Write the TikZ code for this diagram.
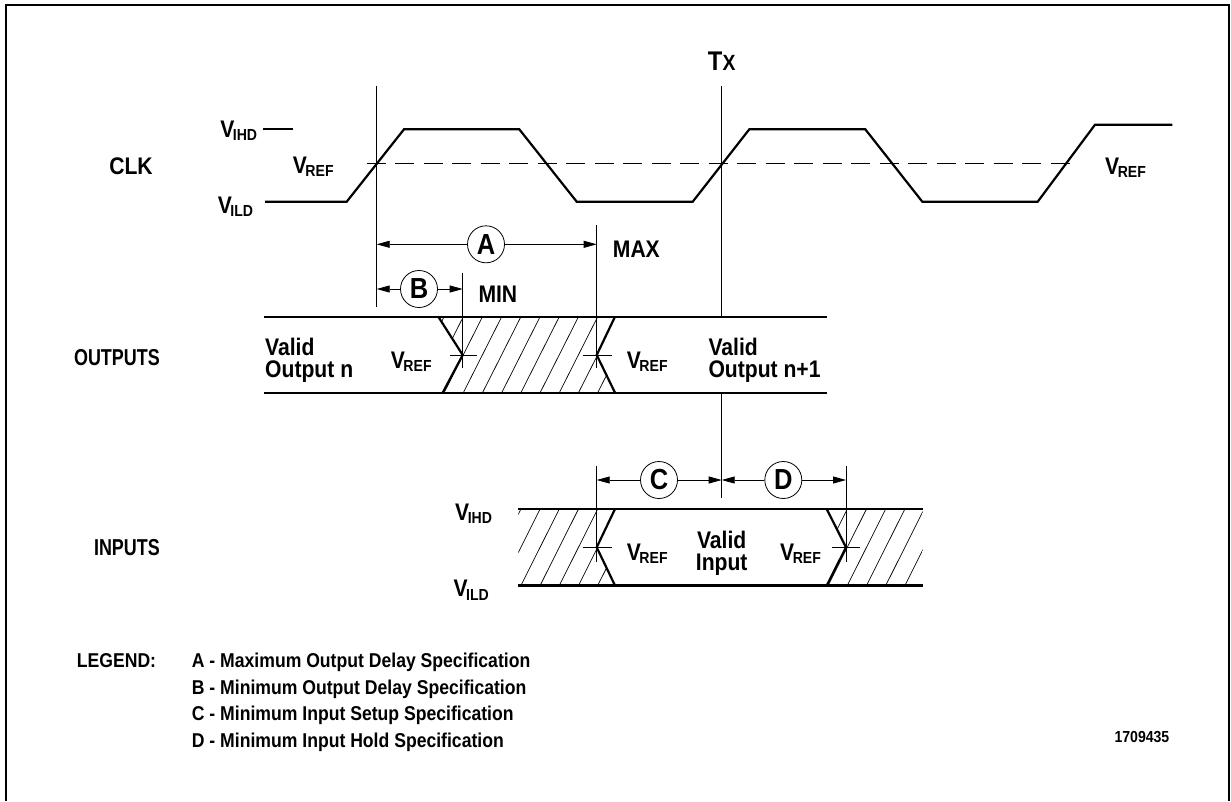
\documentclass[tikz,border=0pt]{standalone}
\usepackage{fontspec}
\setmainfont{Liberation Sans}[FakeStretch=0.88]
\newfontfamily\estrecha{Liberation Sans}[FakeStretch=0.78]
\usepackage{tikz}
\usetikzlibrary{arrows.meta,positioning}

\newcommand{\nivel}[1]{V\kern-1.5pt\raisebox{-3.5pt}{\fontsize{16}{16}\selectfont #1}}

\tikzset{
  senal/.style={line width=2.2pt},
  guia/.style={line width=0.8pt},
  rayado/.style={line width=0.7pt},
  cota/.style={line width=0.8pt, -{Triangle[length=13pt,width=7pt]}},
  circulo/.style={circle, draw, line width=0.8pt, minimum size=37pt, inner sep=0pt,
    font=\bfseries\fontsize{29}{29}\selectfont},
  etiqueta/.style={inner sep=0pt, font=\bfseries\fontsize{24}{22}\selectfont},
  grupo/.style={inner sep=0pt, anchor=east, font=\estrecha\bfseries\fontsize{23}{23}\selectfont},
  leyenda/.style={inner sep=0pt, anchor=base west, font=\bfseries\fontsize{20}{20}\selectfont}
}

\begin{document}
\begin{tikzpicture}[x=1pt,y=-1pt]
\useasboundingbox (0,0) rectangle (1231,801);

%====================================================
% MARCO
%====================================================
\draw[line width=2pt] (6,801) -- (6,5) -- (1229,5) -- (1229,801);

%====================================================
% RELOJ (CLK)
%====================================================
\draw[senal] (265,201.7) -- (346.7,201.7) -- (404,129.3) -- (519.3,129.3) -- (576.7,201.7)
  -- (692.7,201.7) -- (749.3,129.3) -- (865.3,129.3) -- (922.3,201.7) -- (1037.7,201.7)
  -- (1095,124.7) -- (1172.3,124.7);
\draw[senal] (263.3,129.3) -- (292.7,129.3);
\draw[guia, dash pattern=on 19pt off 9.5pt] (366.7,163.3) -- (1076.7,163.3);

\node[etiqueta] (clk) at (131,166) {CLK};
\node[etiqueta, anchor=base east] (vihdClk) at (257.3,137) {\nivel{IHD}};
\node[etiqueta, anchor=base east] (vildClk) at (253.3,213) {\nivel{ILD}};
\node[etiqueta, anchor=base west] (vrefClkL) at (292.7,173) {\nivel{REF}};
\node[etiqueta, anchor=base west] (vrefClkR) at (1105,174) {\nivel{REF}};
\node[etiqueta, font=\bfseries\fontsize{27}{27}\selectfont] (tx) at (721.7,61.7) {T{\fontsize{22}{22}\selectfont X}};

%====================================================
% LINEAS GUIA
%====================================================
\draw[guia] (376.7,86) -- (376.7,307.3);
\draw[guia] (721.7,86) -- (721.7,316.7);
\draw[guia] (721.7,392.7) -- (721.7,498.3);
\draw[guia] (462.7,272.7) -- (462.7,368.3);
\draw[guia] (450,355) -- (476.7,355);
\draw[guia] (596.7,225) -- (596.7,368.3);
\draw[guia] (582.7,355) -- (611.7,355);
\draw[guia] (596.7,466) -- (596.7,561.7);
\draw[guia] (582.7,547) -- (611.7,547);
\draw[guia] (846,466) -- (846,561.7);
\draw[guia] (831.7,547) -- (860,547);

\coordinate (t0A) at (376.7,244.3);
\coordinate (maxA) at (596.7,244.3);
\coordinate (t0B) at (376.7,289);
\coordinate (minB) at (462.7,289);
\coordinate (setC) at (596.7,480);
\coordinate (txC) at (721.7,480);
\coordinate (holdD) at (846,480);

%====================================================
% COTAS A, B, C, D
%====================================================
\node[circulo] (cA) at (486,244.3) {A};
\node[circulo] (cB) at (419,289) {B};
\node[circulo] (cC) at (659,480) {C};
\node[circulo] (cD) at (783.3,480) {D};
\draw[cota] (cA) -- (t0A);
\draw[cota] (cA) -- (maxA);
\draw[cota] (cB) -- (t0B);
\draw[cota] (cB) -- (minB);
\draw[cota] (cC) -- (setC);
\draw[cota] (cC) -- (txC);
\draw[cota] (cD) -- (txC);
\draw[cota] (cD) -- (holdD);

\node[etiqueta, anchor=base west] (max) at (612.7,257.3) {MAX};
\node[etiqueta, anchor=base west] (min) at (478.3,302.7) {MIN};

%====================================================
% SALIDAS (OUTPUTS)
%====================================================
\begin{scope}
\clip (438.3,316.7) -- (462.7,355) -- (442.7,392.7) -- (615,392.7) -- (596.7,355) -- (615,316.7) -- cycle;
\foreach \k in {-3,...,9}
  \draw[rayado] ({463.3+19.2*\k},392.7) -- ++(38.4,-76);
\end{scope}
\draw[senal] (264,316.7) -- (827.3,316.7);
\draw[senal] (264,392.7) -- (827.3,392.7);
\draw[senal] (438.3,316.7) -- (462.7,355) -- (442.7,392.7);
\draw[senal] (615,316.7) -- (596.7,355) -- (615,392.7);

\node[grupo] (outputs) at (160,358) {OUTPUTS};
\node[etiqueta, align=left, anchor=north west] (validN) at (265,337.5) {Valid\\Output n};
\node[etiqueta, anchor=base west] (vrefOutL) at (390.7,368.3) {\nivel{REF}};
\node[etiqueta, anchor=base west] (vrefOutR) at (626.7,368.3) {\nivel{REF}};
\node[etiqueta, align=left, anchor=north west] (validN1) at (708.3,337.5) {Valid\\Output n+1};

%====================================================
% ENTRADAS (INPUTS)
%====================================================
\begin{scope}
\clip (518.3,509) -- (615,509) -- (596.7,547.3) -- (615,585.5) -- (518.3,585.5) -- cycle;
\foreach \k in {1,...,8}
  \draw[rayado] ({463.3+19.2*\k},585.5) -- ++(38.4,-76.5);
\end{scope}
\begin{scope}
\clip (826.7,509) -- (846,547.3) -- (826.7,585.5) -- (922.7,585.5) -- (922.7,509) -- cycle;
\foreach \k in {17,...,24}
  \draw[rayado] ({463.3+19.2*\k},585.5) -- ++(38.4,-76.5);
\end{scope}
\draw[senal] (518.3,509) -- (922.7,509);
\draw[senal] (518.3,585.5) -- (922.7,585.5);
\draw[senal] (615,509) -- (596.7,547.3) -- (615,585.5);
\draw[senal] (826.7,509) -- (846,547.3) -- (826.7,585.5);

\node[grupo] (inputs) at (160,548) {INPUTS};
\node[etiqueta, anchor=base west] (vihdIn) at (455,520) {\nivel{IHD}};
\node[etiqueta, anchor=base west] (vildIn) at (453.3,596.7) {\nivel{ILD}};
\node[etiqueta, anchor=base west] (vrefInL) at (626.7,560) {\nivel{REF}};
\node[etiqueta, anchor=base west] (vrefInR) at (780,560) {\nivel{REF}};
\node[etiqueta, align=center, anchor=north] (validIn) at (721.7,530.8) {Valid\\Input};

%====================================================
% LEYENDA
%====================================================
\node[leyenda] (legend) at (76.7,667.3) {LEGEND:};
\node[leyenda] (legA) at (191.7,667.3) {A - Maximum Output Delay Specification};
\node[leyenda, below=7.7pt of legA.south west, anchor=north west] (legB) {B - Minimum Output Delay Specification};
\node[leyenda, below=7.7pt of legB.south west, anchor=north west] (legC) {C - Minimum Input Setup Specification};
\node[leyenda, below=7.7pt of legC.south west, anchor=north west] (legD) {D - Minimum Input Hold Specification};

\node[inner sep=0pt, anchor=base west, font=\bfseries\fontsize{16}{16}\selectfont] (figno) at (1114.3,742.7) {1709435};
\end{tikzpicture}
\end{document}
